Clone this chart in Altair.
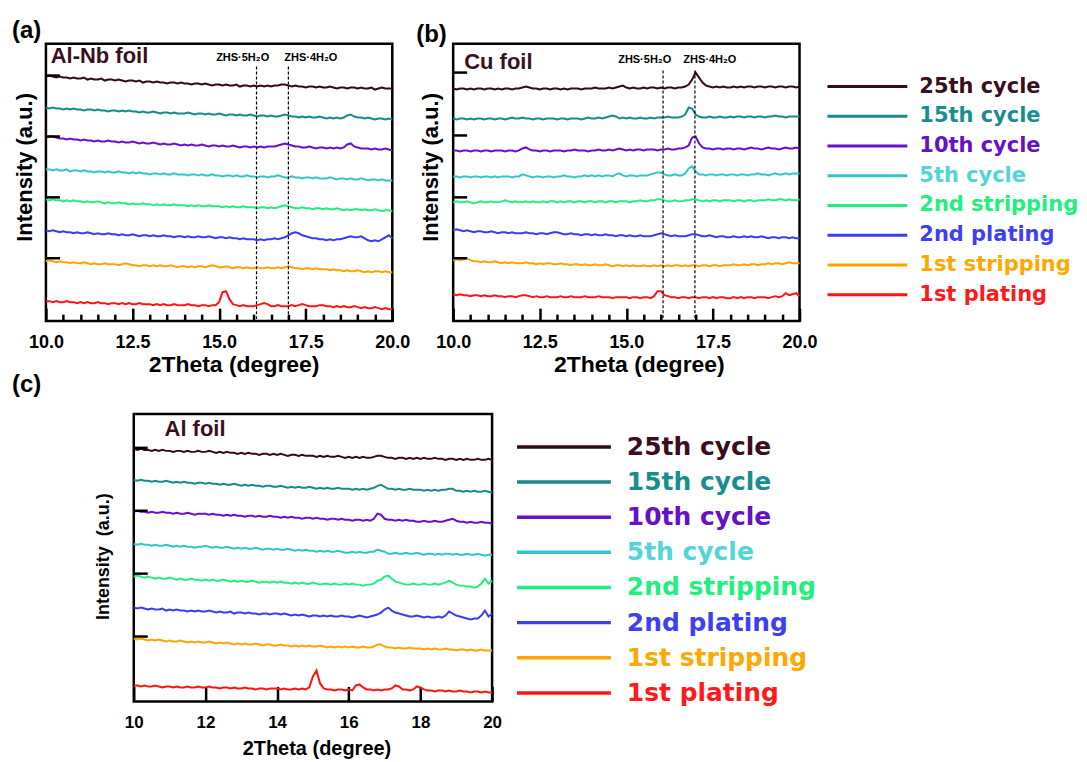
import altair as alt
import pandas as pd

FONT = "Liberation Sans"

# sampling grid (2Theta, degree)
two_theta = [round(10 + 0.1 * i, 1) for i in range(101)]

series = ["25th cycle", "15th cycle", "10th cycle", "5th cycle",
          "2nd stripping", "2nd plating", "1st stripping", "1st plating"]
line_colors = ["#330a1a", "#178a8a", "#6a10c8", "#30c6c8",
               "#20ee80", "#3c3cf0", "#ffa400", "#ff1414"]
text_colors = ["#3a0e1e", "#1a8e8e", "#6511c4", "#52d4d8",
               "#22f07e", "#3f3ff2", "#ffa800", "#ff1a1a"]

# ---------------- (a) Al-Nb foil ----------------
alnb_25 = [245,246,245,244,245,244,244,243,244,243, 243,244,242,243,242,242,243,241,242,242,
           241,242,241,240,241,241,240,241,239,240, 240,239,240,239,239,238,239,239,238,239,
           238,238,237,238,238,237,238,237,236,237, 237,236,237,236,236,237,235,236,236,235,
           236,235,236,235,236,235,236,236,237,237, 236,235,236,235,235,234,235,235,234,235,
           234,234,235,234,233,234,234,233,234,234, 233,234,233,233,234,232,233,234,233,233,233]
alnb_15 = [214,213,214,213,213,212,213,212,213,212, 212,211,212,212,211,212,211,211,210,211,
           211,210,211,210,211,210,210,209,210,209, 209,210,209,208,209,209,208,209,208,208,
           208,209,208,207,208,208,207,208,207,207, 208,207,206,207,207,206,207,206,206,207,
           206,205,206,206,205,206,205,205,206,207, 206,205,205,204,205,204,205,204,204,205,
           204,203,204,203,204,203,204,206,207,205, 204,204,203,204,203,202,203,203,202,203,202]
alnb_10 = [184,185,185,184,183,183,182,183,182,182, 181,182,181,181,180,181,180,180,181,180,
           180,179,180,179,179,180,179,178,179,178, 178,179,178,177,178,177,177,178,177,176,
           177,176,177,176,176,177,176,175,176,176, 175,176,175,175,176,175,174,175,175,174,
           175,174,175,174,175,175,175,176,177,178, 177,176,175,175,174,174,175,174,173,174,
           174,173,174,173,174,173,174,177,178,175, 174,173,173,173,172,173,172,172,173,172,171]
alnb_5 = [152,152,151,152,151,151,152,150,151,151, 150,151,150,150,149,150,150,149,150,149,
          149,150,149,149,148,149,148,149,148,148, 147,148,148,147,148,147,147,148,147,147,
          147,146,147,147,146,147,146,146,147,146, 146,145,146,146,145,146,145,145,146,145,
          145,144,145,145,144,145,145,146,145,144, 144,145,144,144,143,144,144,143,144,143,
          143,143,144,143,142,143,143,142,143,142, 142,143,142,141,142,142,141,142,141,141,141]
alnb_2str = [122,121,122,121,121,120,121,120,121,120, 120,119,120,119,119,120,119,118,119,118,
             118,119,118,118,117,118,117,117,118,117, 117,116,117,116,117,116,116,117,116,116,
             116,115,116,115,116,115,115,116,115,115, 115,114,115,114,115,114,114,115,114,114,
             114,113,114,114,113,114,113,114,115,116, 115,114,113,113,114,113,113,112,113,113,
             112,113,112,112,113,112,111,112,111,112, 112,111,112,111,111,112,111,110,111,111,110]
alnb_2pl = [91,90,91,90,89,90,89,89,88,89, 88,88,89,88,87,88,87,87,88,87,
            87,86,87,86,86,87,86,85,86,86, 85,86,85,85,86,85,85,84,85,85,
            84,85,84,84,85,84,84,85,84,83, 84,84,83,84,83,83,82,83,82,82,
            82,81,82,81,82,82,83,82,83,84, 86,88,89,88,86,85,84,83,83,82,
            82,81,82,81,82,82,83,84,85,84, 84,85,83,81,80,81,80,82,84,86,83]
alnb_1str = [60,61,60,59,60,59,59,58,59,58, 58,59,58,57,58,57,57,58,57,57,
             57,56,57,58,57,56,56,55,56,56, 55,56,55,56,55,55,56,55,54,55,
             55,54,55,54,55,55,54,55,56,55, 54,54,55,54,53,54,54,53,54,53,
             53,54,53,53,54,53,53,54,53,54, 55,54,53,53,52,53,53,52,53,52,
             52,52,51,52,51,51,50,51,50,50, 51,50,49,50,49,50,50,49,50,49,49]
alnb_1pl = [20,20,19,20,19,19,20,19,19,18, 19,18,19,18,18,19,18,18,17,18,
            18,17,18,17,18,17,17,18,17,17, 17,16,17,16,17,16,16,17,16,16,
            16,17,16,16,15,16,16,15,16,16, 19,29,30,22,17,16,15,16,15,15,
            15,16,17,18,17,15,15,16,15,15, 15,16,15,16,17,16,15,15,15,16,
            16,15,15,14,15,14,15,14,14,15, 14,13,14,13,13,14,13,12,13,12,12]

# ---------------- (b) Cu foil ----------------
cu_25 = [233,232,233,233,232,233,232,233,233,232, 233,233,232,233,232,233,233,232,233,233,
         234,235,234,233,233,232,233,233,232,233, 233,232,233,232,233,233,233,232,233,233,
         233,234,233,233,233,234,233,234,235,236, 234,233,234,233,233,234,233,234,234,233,
         234,233,234,234,233,234,234,235,237,242, 249,244,239,236,235,234,235,234,235,234,
         234,235,234,235,234,235,235,234,235,235, 234,235,235,234,235,235,234,235,235,234,235]
cu_15 = [203,202,203,203,202,203,202,203,203,202, 203,203,202,203,203,202,203,204,203,203,
         204,203,203,202,203,203,202,203,203,203, 202,203,203,202,203,203,203,202,203,204,
         203,203,204,203,204,205,206,205,203,204, 203,204,203,203,204,203,203,204,203,204,
         204,204,205,204,204,204,205,207,214,213, 207,205,204,204,205,204,204,205,204,204,
         205,204,205,205,204,205,205,204,205,205, 204,205,205,206,205,205,204,205,205,205,205]
cu_10 = [171,171,170,171,171,170,171,171,170,171, 171,170,171,171,171,170,171,171,170,171,
         173,174,172,171,171,170,171,171,170,171, 171,171,170,171,171,172,171,171,171,170,
         171,171,172,171,171,172,171,172,173,172, 171,172,171,172,172,171,172,172,172,171,
         172,172,173,172,172,173,173,174,176,184, 185,178,174,173,173,172,173,173,172,173,
         173,172,173,173,172,173,174,173,173,172, 173,174,173,173,172,173,174,173,173,174,173]
cu_5 = [145,145,144,145,145,144,145,145,144,145, 145,144,145,144,145,145,145,144,145,145,
        147,146,145,144,145,145,144,145,145,144, 145,145,146,145,145,144,145,145,146,145,
        146,145,146,145,146,146,145,147,148,146, 145,146,146,145,146,146,146,147,148,149,
        149,147,146,146,147,146,146,148,153,155, 150,147,147,146,147,147,146,147,147,146,
        147,147,146,147,147,146,147,147,148,147, 147,146,147,148,147,147,148,147,148,148,148]
cu_2str = [119,120,119,119,120,119,118,119,120,119, 119,120,119,119,120,121,120,119,120,119,
           119,120,119,120,119,119,120,119,120,120, 119,120,119,120,120,119,120,120,119,120,
           120,119,120,120,119,120,120,119,120,120, 120,119,120,120,121,120,120,121,121,122,
           122,121,120,120,121,120,120,121,121,122, 122,121,120,121,120,121,121,120,121,121,
           121,120,121,121,120,121,121,120,121,121, 121,122,121,121,122,122,121,122,121,121,122]
cu_2pl = [91,92,91,90,91,90,89,90,90,89, 89,90,89,88,89,89,88,89,88,88,
          88,89,88,88,87,88,88,87,88,89, 89,88,87,87,88,87,87,86,87,87,
          86,87,86,86,87,86,86,85,86,86, 85,86,85,85,86,85,85,85,86,87,
          88,87,86,85,86,85,85,85,86,87, 87,86,85,85,86,85,84,85,85,84,
          84,85,84,84,85,84,85,84,84,85, 84,83,84,84,83,84,84,83,84,83,83]
cu_1str = [61,62,61,62,63,61,60,60,59,60, 59,59,60,59,58,59,58,59,58,58,
           58,59,58,58,57,58,57,58,58,57, 57,58,57,57,56,57,57,56,57,56,
           56,57,56,56,57,56,55,56,56,55, 56,55,56,55,55,56,55,55,56,55,
           56,55,56,55,56,56,55,56,55,56, 56,55,56,56,55,56,56,55,56,56,
           56,57,56,56,57,56,57,57,56,57, 57,58,57,58,58,57,58,59,58,58,58]
cu_1pl = [27,26,27,26,26,25,26,26,25,26, 25,25,26,25,25,24,25,25,24,25,
          26,26,25,24,25,24,24,25,24,24, 24,25,24,24,25,24,24,24,25,24,
          24,24,25,24,24,24,23,24,24,24, 24,23,24,24,23,24,24,23,25,30,
          30,26,25,24,24,23,24,24,23,24, 24,23,24,24,23,24,23,24,24,23,
          23,24,23,24,23,24,24,23,24,24, 24,23,24,25,24,25,28,26,27,28,25]

# ---------------- (c) Al foil ----------------
al_25 = [253,252,253,252,252,251,252,251,252,251, 251,250,251,251,250,251,250,250,251,250,
         250,251,250,249,250,249,250,249,249,248, 249,248,249,248,248,247,248,248,247,248,
         247,248,247,246,247,247,246,247,246,246, 246,245,246,245,246,245,245,246,245,244,
         245,244,245,244,245,244,244,245,246,246, 245,244,244,243,244,244,243,244,243,244,
         243,244,243,243,244,243,243,242,243,243, 242,243,242,243,242,242,243,242,242,243,242]
al_15 = [222,221,222,221,221,220,221,220,220,221, 220,219,220,219,220,219,219,218,219,219,
         218,219,218,218,217,218,217,217,218,217, 216,217,216,217,216,216,215,216,216,215,
         215,216,215,214,215,214,215,214,214,215, 214,213,214,213,214,213,213,214,213,213,
         213,212,213,212,213,212,213,214,216,217, 215,213,213,212,213,212,212,213,212,212,
         212,211,212,211,212,211,212,212,213,213, 211,211,210,211,210,211,210,210,211,210,209]
al_10 = [190,191,190,190,189,190,189,189,190,189, 189,188,189,188,188,189,188,187,188,188,
         188,187,188,187,187,186,187,186,187,186, 186,185,186,186,185,186,185,185,186,185,
         185,184,185,184,185,184,184,183,184,184, 183,184,183,183,182,183,183,182,183,182,
         182,181,182,182,181,182,181,183,188,187, 183,182,182,181,182,181,182,181,181,180,
         180,181,180,180,181,180,180,181,182,183, 181,180,180,179,180,179,179,180,179,179,178]
al_5 = [158,157,158,157,157,156,157,156,156,157, 156,155,156,155,156,155,155,154,155,155,
        156,155,154,155,154,154,155,154,153,154, 153,154,153,153,154,153,152,153,153,152,
        153,152,152,153,152,151,152,151,152,151, 151,150,151,150,151,150,150,151,150,149,
        149,150,149,150,149,149,150,150,152,151, 150,148,148,149,148,148,149,148,148,149,
        148,147,148,148,147,148,147,148,148,147, 148,147,147,148,147,147,148,147,146,147,147]
al_2str = [125,126,125,124,125,124,123,124,123,123, 124,123,122,123,122,122,123,122,122,121,
           122,121,122,121,121,122,121,120,121,120, 121,120,120,121,120,119,120,120,119,120,
           119,120,119,119,118,119,118,119,118,118, 119,118,117,118,118,117,118,117,117,118,
           117,118,117,117,116,117,117,118,121,122, 125,126,123,120,119,118,117,117,118,117,
           117,118,117,117,118,117,118,119,121,119, 117,116,116,115,115,114,115,118,123,118,121]
al_2pl = [94,93,94,93,92,93,92,92,93,91, 92,91,92,91,91,90,91,90,91,90,
          90,91,90,89,90,89,89,90,88,89, 89,88,89,88,88,87,88,88,87,88,
          88,87,88,87,86,87,86,87,86,85, 86,86,85,86,85,86,85,85,86,85,
          85,84,85,86,85,84,85,86,87,89, 92,94,91,89,88,87,86,85,85,86,
          85,84,85,84,84,85,84,86,90,88, 86,85,84,83,82,83,83,86,91,85,88]
al_1str = [63,62,63,62,61,62,61,62,61,60, 61,60,60,61,60,59,60,59,60,59,
           59,60,59,58,59,58,59,58,57,58, 57,58,57,57,58,57,56,57,57,56,
           56,57,56,56,55,56,55,56,55,56, 55,55,56,55,54,55,54,55,54,55,
           54,55,54,54,55,54,54,55,57,57, 55,54,54,53,54,53,53,54,53,53,
           53,52,53,52,53,52,52,53,52,52, 51,52,52,51,52,51,51,52,51,51,51]
al_1pl = [16,16,15,16,15,15,16,15,14,15, 15,14,15,14,14,15,14,14,15,14,
          14,15,14,14,13,14,14,13,14,13, 13,14,13,13,12,13,13,12,13,13,
          13,12,13,12,12,13,12,13,12,14, 25,31,18,13,12,12,11,12,12,11,
          12,11,16,17,14,12,12,11,12,11, 12,12,13,16,15,12,12,11,12,15,
          14,12,11,11,10,11,11,10,11,10, 10,11,10,10,9,10,10,9,10,9,9]

# annotation labels
zhs_labels = ["ZHS·5H₂O", "ZHS·4H₂O"]
alnb_zhs_lines = [16.08, 17.0]
cu_zhs_lines = [16.06, 16.98]


def long_df(arrays):
    rows = []
    for name, vals in zip(series, arrays):
        for t, v in zip(two_theta, vals):
            rows.append({"theta": t, "I": v, "series": name})
    return pd.DataFrame(rows)


def xrd_panel(arrays, width, height, letter, letter_dx, letter_offset, letter_dy,
              foil, foil_x, foil_y, major_vals, major_fmt, major_len,
              label_size, label_pad, xtitle_size, xtitle_pad, xtitle_x,
              ytick_vals, ytitle, ytitle_size, ytitle_pos,
              minor_vals=None, zhs=None):
    xs = alt.Scale(domain=[10, 20], nice=False, zero=False)
    ys = alt.Scale(domain=[0, height], nice=False, zero=False)
    color = alt.Color("series:N", scale=alt.Scale(domain=series, range=line_colors), legend=None)
    major_axis = alt.Axis(values=major_vals, format=major_fmt, orient="bottom",
                          tickSize=major_len, offset=-major_len, tickWidth=2.5, tickColor="black",
                          domain=False, grid=False, labelFlush=False, labelOverlap=False,
                          labelFont=FONT, labelFontSize=label_size, labelFontWeight="bold",
                          labelColor="black", labelPadding=label_pad,
                          title="2Theta (degree)", titleFont=FONT, titleFontSize=xtitle_size,
                          titleFontWeight="bold", titleColor="black", titlePadding=xtitle_pad,
                          titleX=xtitle_x)

    df = long_df(arrays)
    lines = alt.Chart(df).mark_line(strokeWidth=2).encode(
        x=alt.X("theta:Q", scale=xs, axis=major_axis),
        y=alt.Y("I:Q", scale=ys, axis=None),
        color=color,
    )
    layers = [lines]

    # intensity ticks on the left edge (inward)
    tick_df = pd.DataFrame({"v": ytick_vals})
    layers.append(alt.Chart(tick_df).mark_tick(
        orient="horizontal", size=14, thickness=2.5, color="black", opacity=1).encode(
        x=alt.value(7), y=alt.Y("v:Q", axis=None)))

    # y title
    yt_df = pd.DataFrame({"x": [ytitle_pos[0]], "y": [ytitle_pos[1]], "t": [ytitle]})
    layers.append(alt.Chart(yt_df).mark_text(
        angle=270, align="center", baseline="middle", font=FONT, fontSize=ytitle_size,
        fontWeight="bold", color="black").encode(
        x=alt.X("x:Q", axis=None), y=alt.Y("y:Q", axis=None), text="t:N"))

    name_df = pd.DataFrame({"x": [foil_x], "y": [foil_y], "t": [foil]})
    layers.append(alt.Chart(name_df).mark_text(
        align="left", baseline="middle", font=FONT, fontSize=22, fontWeight="bold",
        color="#3a0f1f").encode(
        x=alt.X("x:Q", axis=None), y=alt.Y("y:Q", axis=None), text="t:N"))

    if zhs is not None:
        line_x, top, lab_x, lab_y = zhs
        rule_df = pd.DataFrame({"x": line_x, "top": [top, top], "bot": [0, 0]})
        minor_axis = alt.Axis(values=minor_vals, labels=False, orient="bottom",
                              tickSize=7, offset=-7, tickWidth=2.5, tickColor="black",
                              domain=False, grid=False, title=None)
        layers.append(alt.Chart(rule_df).mark_rule(
            strokeDash=[3, 2], strokeWidth=1.2, color="black").encode(
            x=alt.X("x:Q", axis=minor_axis), y=alt.Y("top:Q", axis=None), y2="bot:Q"))
        lab_df = pd.DataFrame({"x": lab_x, "y": [lab_y, lab_y], "t": zhs_labels})
        layers.append(alt.Chart(lab_df).mark_text(
            align="center", baseline="middle", font=FONT, fontSize=11, fontWeight="bold",
            color="black").encode(
            x=alt.X("x:Q", axis=None), y=alt.Y("y:Q", axis=None), text="t:N"))

    chart = alt.layer(*layers).properties(
        width=width, height=height,
        view=alt.ViewBackground(stroke="black", strokeWidth=2.5),
        title=alt.TitleParams(text=letter, anchor="start", frame="group", dx=letter_dx,
                              dy=letter_dy, offset=letter_offset, font=FONT, fontSize=24,
                              fontWeight="bold", color="black"),
    ).resolve_axis(x="independent")
    return chart


def legend_panel(width, height, y_range, line_x0, line_x1, text_x, font_size, stroke_w):
    ldf = pd.DataFrame({"series": series, "row": list(range(len(series))),
                        "lc": line_colors, "tc": text_colors})
    y = alt.Y("row:Q", scale=alt.Scale(domain=[0, 7], range=y_range), axis=None)
    rules = alt.Chart(ldf).mark_rule(strokeWidth=stroke_w).encode(
        x=alt.value(line_x0), x2=alt.value(line_x1), y=y, color=alt.Color("lc:N", scale=None))
    texts = alt.Chart(ldf).mark_text(
        align="left", baseline="middle", font="DejaVu Sans", fontWeight="bold",
        fontSize=font_size).encode(
        x=alt.value(text_x), y=y, text="series:N", color=alt.Color("tc:N", scale=None))
    return alt.layer(rules, texts).properties(
        width=width, height=height, view=alt.ViewBackground(stroke=None))


def spacer(w, h):
    return alt.Chart(pd.DataFrame({"a": [0]})).mark_text(text="").encode(
        x=alt.value(0)).properties(width=w, height=h, view=alt.ViewBackground(stroke=None))


minor_ab = [10.5, 11, 11.5, 12, 13, 13.5, 14, 14.5, 15.5, 16, 16.5, 17, 18, 18.5, 19, 19.5]

panel_a = xrd_panel(
    [alnb_25, alnb_15, alnb_10, alnb_5, alnb_2str, alnb_2pl, alnb_1str, alnb_1pl],
    347, 278, "(a)", -34, 1, 0, "Al-Nb foil", 10.14, 266,
    [10, 12.5, 15, 17.5, 20], ".1f", 13, 18, 12, 23, 2, 188,
    [246, 185, 124, 63], "Intensity (a.u.)", 22, (9.395, 154),
    minor_vals=minor_ab, zhs=(alnb_zhs_lines, 255, [15.68, 17.65], 264))

panel_b = xrd_panel(
    [cu_25, cu_15, cu_10, cu_5, cu_2str, cu_2pl, cu_1str, cu_1pl],
    347, 278, "(b)", -37, 1, 4, "Cu foil", 10.32, 260,
    [10, 12.5, 15, 17.5, 20], ".1f", 13, 18, 12, 23, 2, 186,
    [249, 186, 124, 63], "Intensity (a.u.)", 22, (9.366, 154),
    minor_vals=minor_ab, zhs=(cu_zhs_lines, 251, [15.53, 17.41], 262))

panel_c = xrd_panel(
    [al_25, al_15, al_10, al_5, al_2str, al_2pl, al_1str, al_1pl],
    359, 288, "(c)", -122, 17, 0, "Al foil", 10.86, 273,
    [10, 12, 14, 16, 18, 20], "d", 15, 17, 13, 20, 8, 183,
    [254, 191, 128, 65], "Intensity\u00a0 (a.u.)", 18, (9.178, 145))

legend_1 = legend_panel(240, 278, [43, 251.5], 3, 83, 95, 21, 3)
legend_2 = legend_panel(300, 288, [33, 279.5], 0, 94, 110, 25, 3.5)

row1 = alt.hconcat(panel_a, spacer(11, 20), panel_b, legend_1, spacing=25, bounds="flush")
row2 = alt.hconcat(spacer(63, 20), panel_c, legend_2, spacing=25, bounds="flush")

chart = alt.vconcat(row1, row2, spacing=-7).properties(
    padding={"left": 2, "top": 8, "right": 0, "bottom": 0},
    background="white",
).configure_view(stroke=None).configure(font=FONT)

chart.save("out.html", embed_options={"renderer": "svg", "actions": False})
